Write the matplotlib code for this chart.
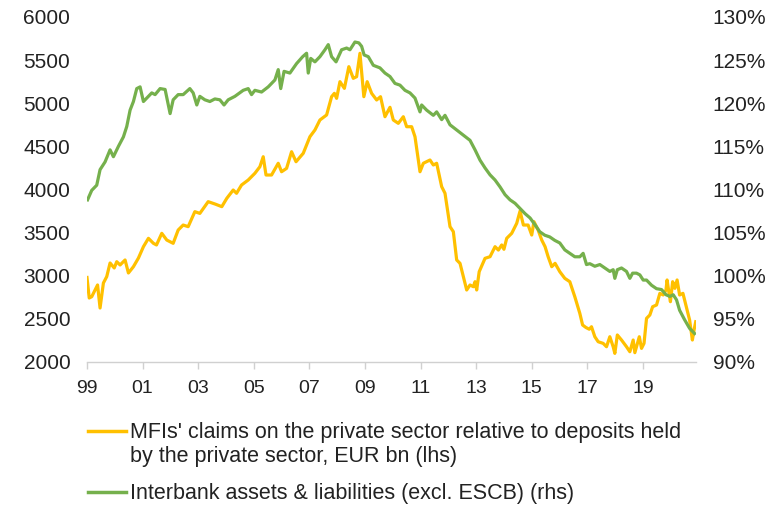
import matplotlib
matplotlib.use("Agg")
import matplotlib.pyplot as plt
from matplotlib.ticker import FuncFormatter

plt.rcParams['font.family'] = ['Liberation Sans', 'DejaVu Sans']

# MFIs' claims on the private sector relative to deposits, EUR bn (lhs)
claims_dates = [
    1999.00, 1999.08, 1999.17, 1999.38, 1999.47, 1999.59, 1999.71, 1999.83, 1999.98,
    2000.07, 2000.19, 2000.37, 2000.49, 2000.67, 2000.85, 2001.03, 2001.21, 2001.39,
    2001.50, 2001.69, 2001.87, 2002.10, 2002.28, 2002.46, 2002.64, 2002.88, 2003.06,
    2003.36, 2003.62, 2003.85, 2004.03, 2004.26, 2004.38, 2004.56, 2004.80, 2005.04,
    2005.22, 2005.34, 2005.44, 2005.64, 2005.88, 2006.00, 2006.18, 2006.36, 2006.52,
    2006.78, 2007.02, 2007.20, 2007.38, 2007.62, 2007.80, 2007.90, 2007.98, 2008.10,
    2008.26, 2008.42, 2008.58, 2008.70, 2008.82, 2008.96, 2009.08, 2009.24, 2009.42,
    2009.56, 2009.72, 2009.90, 2010.02, 2010.20, 2010.38, 2010.50, 2010.68, 2010.80,
    2010.98, 2011.10, 2011.34, 2011.46, 2011.58, 2011.76, 2011.88, 2012.06, 2012.18,
    2012.30, 2012.42, 2012.54, 2012.66, 2012.78, 2012.90, 2012.96, 2013.02, 2013.11,
    2013.32, 2013.50, 2013.68, 2013.80, 2013.92, 2014.00, 2014.10, 2014.28, 2014.46,
    2014.58, 2014.70, 2014.87, 2015.00, 2015.08, 2015.23, 2015.36, 2015.48, 2015.59,
    2015.72, 2015.84, 2016.01, 2016.19, 2016.37, 2016.55, 2016.73, 2016.83, 2016.95,
    2017.07, 2017.15, 2017.27, 2017.39, 2017.57, 2017.69, 2017.81, 2017.93, 2017.99,
    2018.08, 2018.23, 2018.41, 2018.53, 2018.65, 2018.71, 2018.87, 2018.95, 2019.04,
    2019.13, 2019.25, 2019.35, 2019.49, 2019.61, 2019.73, 2019.83, 2019.87, 2019.94,
    2019.99, 2020.07, 2020.15, 2020.23, 2020.32, 2020.44, 2020.56, 2020.68, 2020.78,
    2020.84, 2020.90,
]
claims = [
    2980, 2742, 2757, 2893, 2626, 2916, 2990, 3148, 3090,
    3163, 3125, 3183, 3032, 3105, 3205, 3337, 3434, 3376,
    3357, 3492, 3414, 3376, 3530, 3588, 3569, 3743, 3723,
    3859, 3830, 3801, 3898, 3994, 3956, 4052, 4110, 4188,
    4264, 4380, 4168, 4168, 4304, 4206, 4245, 4438, 4322,
    4420, 4612, 4690, 4806, 4864, 5076, 5115, 5057, 5250,
    5173, 5424, 5289, 5308, 5579, 5076, 5250, 5115, 5038,
    5076, 4844, 4953, 4806, 4767, 4844, 4728, 4728, 4612,
    4206, 4304, 4342, 4284, 4304, 4033, 3956, 3569, 3511,
    3183, 3144, 2990, 2835, 2893, 2873, 2931, 2835, 3047,
    3202, 3221, 3337, 3298, 3357, 3307, 3434, 3492, 3608,
    3750, 3588, 3588, 3472, 3627, 3530, 3414, 3337, 3221,
    3105, 3144, 3047, 2970, 2931, 2757, 2564, 2429, 2400,
    2380, 2409, 2293, 2235, 2216, 2177, 2293, 2177, 2100,
    2313, 2255, 2177, 2119, 2255, 2108, 2293, 2158, 2216,
    2506, 2545, 2641, 2661, 2796, 2777, 2835, 2951, 2796,
    2699, 2931, 2854, 2951, 2777, 2796, 2641, 2487, 2255,
    2371, 2467,
]

# Interbank assets & liabilities (excl. ESCB), % (rhs)
interbank_dates = [
    1999.02, 1999.17, 1999.35, 1999.47, 1999.65, 1999.83, 1999.95, 2000.13, 2000.31,
    2000.43, 2000.55, 2000.67, 2000.79, 2000.91, 2001.03, 2001.21, 2001.33, 2001.45,
    2001.63, 2001.81, 2001.99, 2002.10, 2002.28, 2002.46, 2002.70, 2002.82, 2002.95,
    2003.06, 2003.24, 2003.42, 2003.60, 2003.78, 2003.93, 2004.08, 2004.32, 2004.62,
    2004.80, 2004.92, 2005.04, 2005.28, 2005.52, 2005.76, 2005.88, 2005.97, 2006.09,
    2006.30, 2006.54, 2006.76, 2006.90, 2006.96, 2007.05, 2007.20, 2007.38, 2007.56,
    2007.68, 2007.80, 2007.96, 2008.16, 2008.34, 2008.46, 2008.64, 2008.78, 2008.88,
    2008.97, 2009.12, 2009.30, 2009.54, 2009.72, 2009.90, 2010.08, 2010.26, 2010.44,
    2010.62, 2010.80, 2010.98, 2011.04, 2011.22, 2011.46, 2011.58, 2011.76, 2011.88,
    2012.06, 2012.30, 2012.54, 2012.78, 2012.96, 2013.14, 2013.32, 2013.50, 2013.68,
    2013.86, 2014.04, 2014.22, 2014.40, 2014.58, 2014.76, 2014.94, 2015.12, 2015.29,
    2015.47, 2015.65, 2015.83, 2016.01, 2016.19, 2016.37, 2016.55, 2016.73, 2016.85,
    2016.97, 2017.09, 2017.27, 2017.45, 2017.63, 2017.81, 2017.93, 2017.99, 2018.08,
    2018.23, 2018.41, 2018.53, 2018.63, 2018.77, 2018.89, 2019.01, 2019.13, 2019.31,
    2019.49, 2019.67, 2019.83, 2019.97, 2020.09, 2020.21, 2020.32, 2020.50, 2020.68,
    2020.86,
]
interbank = [
    108.8, 109.9, 110.5, 112.3, 113.2, 114.6, 113.8, 115.0, 116.1,
    117.3, 119.2, 120.2, 121.7, 121.9, 120.2, 120.8, 121.2, 121.0,
    121.7, 121.6, 118.8, 120.4, 121.0, 121.0, 121.7, 121.2, 119.8,
    120.8, 120.4, 120.2, 120.5, 120.4, 119.8, 120.4, 120.8, 121.5,
    121.7, 121.0, 121.5, 121.3, 121.9, 122.7, 123.9, 121.7, 123.7,
    123.5, 124.6, 125.4, 125.8, 123.5, 125.2, 124.8, 125.4, 126.2,
    126.8, 125.4, 124.8, 126.2, 126.4, 126.2, 127.1, 127.0, 126.6,
    125.6, 125.4, 124.4, 124.1, 123.5, 123.1, 122.3, 122.1, 121.5,
    121.2, 120.6, 119.0, 119.8, 119.2, 118.6, 119.0, 118.1, 118.6,
    117.5, 116.9, 116.3, 115.7, 114.6, 113.4, 112.5, 111.7, 111.1,
    110.3, 109.4, 108.8, 108.4, 107.8, 107.2, 106.7, 105.9, 105.1,
    104.7, 104.5, 104.1, 103.8, 103.0, 102.6, 102.2, 102.2, 102.6,
    101.3, 101.4, 101.1, 101.3, 100.9, 100.5, 100.7, 99.7, 100.7,
    100.9, 100.5, 99.7, 100.3, 100.3, 100.1, 99.5, 99.5, 98.9,
    98.5, 98.4, 97.8, 97.6, 97.8, 97.2, 96.0, 94.9, 93.9,
    93.3,
]

year_ticks = list(range(1999, 2020, 2))
year_labels = ['%02d' % (y % 100) for y in year_ticks]

text_color = '#222222'
grey = '#d0d0d0'

fig = plt.figure(figsize=(7.78, 5.05), dpi=100)
ax = fig.add_axes([87 / 778, 1 - 362 / 505, 609 / 778, 345 / 505])
ax2 = ax.twinx()

l1, = ax.plot(claims_dates, claims, color='#FFC000', linewidth=2.3,
              label="MFIs' claims on the private sector relative to deposits held\nby the private sector, EUR bn (lhs)")
l2, = ax2.plot(interbank_dates, interbank, color='#75B04C', linewidth=2.3,
               label='Interbank assets & liabilities (excl. ESCB) (rhs)')

ax.set_xlim(1999.0, 2020.91)
ax.set_ylim(2000, 6000)
ax2.set_ylim(90, 130)
ax.set_yticks(range(2000, 6001, 500))
ax2.set_yticks(range(90, 131, 5))
ax2.yaxis.set_major_formatter(FuncFormatter(lambda v, p: '%d%%' % v))
ax.set_xticks(year_ticks)
ax.set_xticklabels(year_labels)

for a in (ax, ax2):
    for s in ('top', 'left', 'right'):
        a.spines[s].set_visible(False)
    a.spines['bottom'].set_color(grey)
    a.spines['bottom'].set_linewidth(1.0)
ax2.spines['bottom'].set_visible(False)

ax.tick_params(axis='y', length=0, pad=12, labelsize=15, labelcolor=text_color)
ax2.tick_params(axis='y', length=0, pad=12, labelsize=15, labelcolor=text_color)
ax.tick_params(axis='x', length=5, width=1, color=grey, pad=8, labelsize=14, labelcolor=text_color)

leg = fig.legend(handles=[l1, l2], loc='upper left', bbox_to_anchor=(88 / 778, 1 - 422 / 505),
                 frameon=False, fontsize=15.5, handlelength=1.75, handleheight=1.0,
                 handletextpad=0.2, borderpad=0, borderaxespad=0, labelspacing=0.75,
                 labelcolor=text_color)
for t in leg.get_texts():
    t.set_linespacing(1.2)
for h in leg.get_lines():
    h.set_linewidth(2.5)
# put the legend line next to the first text line, not the middle of the label
for col in leg._legend_handle_box.get_children():
    for row in col.get_children():
        row.align = 'top'

plt.savefig('out.png', dpi=100)
